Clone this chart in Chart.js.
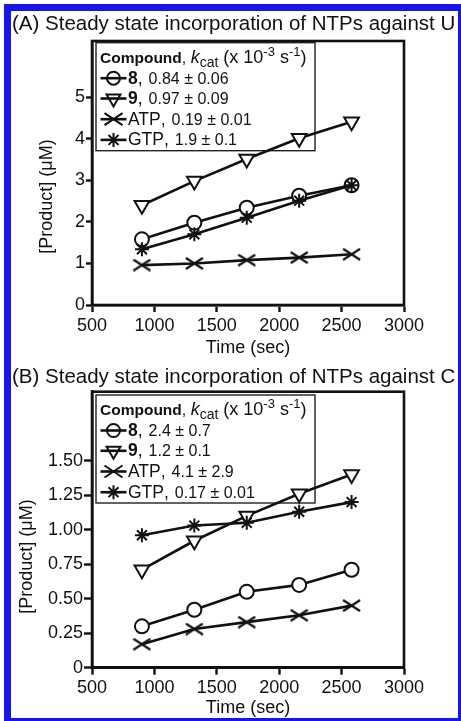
<!DOCTYPE html>
<html>
<head>
<meta charset="utf-8">
<script src="https://cdn.jsdelivr.net/npm/chart.js@4.4.1/dist/chart.umd.min.js"></script>
<style>
  html, body { margin: 0; padding: 0; background: #fff; overflow: hidden; }
  #frame {
    position: absolute; left: 4px; top: 4px; width: 447px; height: 707px;
    border-style: solid; border-color: #1414f5; border-width: 7px 3px 3px 7px;
  }
  canvas { position: absolute; left: 0; }
</style>
</head>
<body>
<div id="frame"></div>
<canvas id="chartA" width="461" height="361" style="top:0"></canvas>
<canvas id="chartB" width="461" height="360" style="top:361px"></canvas>
<script>
// data
const times = [900, 1320, 1740, 2160, 2580];

const cmpd8A = [1.58, 1.98, 2.34, 2.63, 2.88];
const cmpd9A = [2.40, 2.98, 3.51, 4.01, 4.41];
const atpA = [0.96, 1.00, 1.08, 1.14, 1.22];
const gtpA = [1.34, 1.70, 2.10, 2.51, 2.88];

const cmpd8B = [0.30, 0.42, 0.55, 0.60, 0.71];
const cmpd9B = [0.71, 0.92, 1.10, 1.26, 1.40];
const atpB = [0.17, 0.28, 0.33, 0.38, 0.45];
const gtpB = [0.96, 1.03, 1.05, 1.13, 1.20];

const seriesNames = ['8', '9', 'ATP', 'GTP'];
const kcatA = ['0.84 ± 0.06', '0.97 ± 0.09', '0.19 ± 0.01', '1.9 ± 0.1'];
const kcatB = ['2.4 ± 0.7', '1.2 ± 0.1', '4.1 ± 2.9', '0.17 ± 0.01'];

const xTicks = [500, 1000, 1500, 2000, 2500, 3000];
const xTickLabels = ['500', '1000', '1500', '2000', '2500', '3000'];
const yTicksA = [0, 1, 2, 3, 4, 5];
const yTickLabelsA = ['0', '1', '2', '3', '4', '5'];
const yTicksB = [0, 0.25, 0.5, 0.75, 1, 1.25, 1.5];
const yTickLabelsB = ['0', '0.25', '0.50', '0.75', '1.00', '1.25', '1.50'];

const titleA = '(A) Steady state incorporation of NTPs against U';
const titleB = '(B) Steady state incorporation of NTPs against C';
const yTitle = '[Product] (μM)';

const INK = '#111';
const FONT = "'Liberation Sans', Arial, Helvetica, sans-serif";

// wide flat "x" marker for ATP
function makeX(w, h, lw) {
  const c = document.createElement('canvas');
  c.width = w; c.height = h;
  const g = c.getContext('2d');
  g.strokeStyle = INK; g.lineWidth = lw;
  g.beginPath();
  g.moveTo(1, 1); g.lineTo(w - 1, h - 1);
  g.moveTo(1, h - 1); g.lineTo(w - 1, 1);
  g.stroke();
  return c;
}
const xMark = makeX(19, 13, 2.2);

const markerStyles = [
  { pointStyle: 'circle', pointRadius: 7, pointRotation: 0, order: 3 },
  { pointStyle: 'triangle', pointRadius: 8.5, pointRotation: 180, order: 2 },
  { pointStyle: xMark, pointRadius: 8, pointRotation: 0, order: 1 },
  { pointStyle: 'star', pointRadius: 7, pointRotation: 0, order: 0 }
];

function makeDataset(values, i) {
  const m = markerStyles[i];
  return {
    label: seriesNames[i],
    data: times.map((t, j) => ({ x: t, y: values[j] })),
    borderColor: INK,
    borderWidth: 2.6,
    pointStyle: m.pointStyle,
    pointRadius: m.pointRadius,
    pointRotation: m.pointRotation,
    pointBorderWidth: 2,
    pointBorderColor: INK,
    pointBackgroundColor: '#fff',
    tension: 0,
    order: m.order
  };
}

// legend marker, drawn with a line through it
function legendMarker(ctx, i, x, y) {
  ctx.save();
  ctx.strokeStyle = INK;
  ctx.lineWidth = 2.6;
  ctx.beginPath();
  ctx.moveTo(x - 13, y); ctx.lineTo(x + 13, y);
  ctx.stroke();
  ctx.lineWidth = 2;
  ctx.beginPath();
  if (i === 0) {
    ctx.arc(x, y, 6.5, 0, Math.PI * 2);
  } else if (i === 1) {
    const r = 8;
    ctx.moveTo(x - 0.866 * r, y - 0.5 * r);
    ctx.lineTo(x + 0.866 * r, y - 0.5 * r);
    ctx.lineTo(x, y + r);
    ctx.closePath();
  } else if (i === 2) {
    ctx.moveTo(x - 9, y - 6); ctx.lineTo(x + 9, y + 6);
    ctx.moveTo(x - 9, y + 6); ctx.lineTo(x + 9, y - 6);
  } else {
    const r = 7;
    for (let k = 0; k < 4; k++) {
      const a = k * Math.PI / 4;
      ctx.moveTo(x - Math.cos(a) * r, y - Math.sin(a) * r);
      ctx.lineTo(x + Math.cos(a) * r, y + Math.sin(a) * r);
    }
  }
  ctx.stroke();
  ctx.restore();
}

function drawLegend(ctx, bx, by, values) {
  const bw = 219, bh = 108;
  ctx.save();
  ctx.fillStyle = '#fff';
  ctx.fillRect(bx, by, bw, bh);
  ctx.strokeStyle = '#222';
  ctx.lineWidth = 1.4;
  ctx.strokeRect(bx, by, bw, bh);

  ctx.fillStyle = INK;
  ctx.textBaseline = 'alphabetic';
  ctx.textAlign = 'left';
  // header: Compound, k_cat (x 10^-3 s^-1)
  const base = by + 20;
  const parts = [
    ['Compound', 'bold 15.5px', 0],
    [', ', '16px', 0],
    ['k', 'italic 18px', 0],
    ['cat', '14px', 4],
    [' (x 10', '18px', 0],
    ['-3', '13px', -7],
    [' s', '18px', 0],
    ['-1', '13px', -7],
    [')', '18px', 0]
  ];
  let x = bx + 4;
  parts.forEach(([t, f, dy]) => {
    ctx.font = f + ' ' + FONT;
    ctx.fillText(t, x, base + dy);
    x += ctx.measureText(t).width;
  });

  const rows = [41, 61.3, 82, 102.7];
  seriesNames.forEach((name, i) => {
    const y = by + rows[i];
    legendMarker(ctx, i, bx + 17.5, y - 5.5);
    let tx = bx + 32;
    ctx.fillStyle = INK;
    ctx.font = (i < 2 ? 'bold ' : '') + '17.5px ' + FONT;
    ctx.fillText(name, tx, y);
    tx += ctx.measureText(name).width;
    ctx.font = '17.5px ' + FONT;
    ctx.fillText(',', tx, y);
    tx += ctx.measureText(',').width + 6;
    ctx.font = '16px ' + FONT;
    ctx.fillText(values[i], tx, y);
  });
  ctx.restore();
}

function makePanel(id, cfg) {
  const panelPlugin = {
    id: 'panel' + id,
    beforeDatasetsDraw(chart) {
      const ctx = chart.ctx;
      const a = chart.chartArea;
      ctx.save();
      ctx.strokeStyle = INK;
      ctx.lineWidth = 2.6;
      ctx.strokeRect(a.left, a.top, a.right - a.left, a.bottom - a.top);
      ctx.fillStyle = INK;
      ctx.font = '20.5px ' + FONT;
      ctx.textBaseline = 'middle';
      ctx.textAlign = 'left';
      ctx.fillText(cfg.title, 12, cfg.titleY);
      // rotated y axis title, centred lower than the plot middle as in the figure
      ctx.font = '18px ' + FONT;
      ctx.textAlign = 'center';
      ctx.translate(cfg.yTitleX, cfg.yTitleY);
      ctx.rotate(-Math.PI / 2);
      ctx.fillText(yTitle, 0, 0);
      ctx.restore();
      drawLegend(ctx, 96, cfg.legendY, cfg.kcat);
    }
  };

  return new Chart(document.getElementById(id), {
    type: 'line',
    data: { datasets: cfg.series.map(makeDataset) },
    options: {
      responsive: false,
      animation: false,
      devicePixelRatio: 1,
      layout: { padding: { left: 12, right: 57, top: cfg.top, bottom: 0 } },
      plugins: { legend: { display: false }, tooltip: { enabled: false }, title: { display: false } },
      scales: {
        x: {
          type: 'linear',
          min: 500,
          max: 3000,
          afterBuildTicks: s => { s.ticks = xTicks.map(v => ({ value: v })); },
          afterFit: s => { s.height = cfg.xBox; },
          ticks: {
            color: INK, padding: 3, maxRotation: 0, autoSkip: false,
            font: { family: FONT, size: 18 },
            callback: (v, i) => xTickLabels[i]
          },
          grid: { drawOnChartArea: false, drawTicks: true, tickLength: 7, tickWidth: 2.4, tickColor: INK },
          border: { display: true, color: INK, width: 2.6 },
          title: {
            display: true, text: 'Time (sec)', color: INK,
            font: { family: FONT, size: 18 }, padding: { top: 0, bottom: 2 }
          }
        },
        y: {
          type: 'linear',
          min: 0,
          max: cfg.yMax,
          afterBuildTicks: s => { s.ticks = cfg.yTicks.map(v => ({ value: v })); },
          afterFit: s => { s.width = 80; },
          ticks: {
            color: INK, padding: 1, autoSkip: false,
            font: { family: FONT, size: 18 },
            callback: (v, i) => cfg.yLabels[i]
          },
          grid: { drawOnChartArea: false, drawTicks: true, tickLength: cfg.yTick, tickWidth: 2.4, tickColor: INK },
          border: { display: true, color: INK, width: 2.6 },
          title: { display: false }
        }
      }
    },
    plugins: [panelPlugin]
  });
}

makePanel('chartA', {
  title: titleA, titleY: 24.5, top: 41, xBox: 56, yMax: 6.35,
  yTicks: yTicksA, yLabels: yTickLabelsA, yTick: 6, yTitleX: 46.7, yTitleY: 196.5,
  legendY: 42.7, kcat: kcatA,
  series: [cmpd8A, cmpd9A, atpA, gtpA]
});

makePanel('chartB', {
  title: titleB, titleY: 16, top: 30.7, xBox: 53.3, yMax: 2.0,
  yTicks: yTicksB, yLabels: yTickLabelsB, yTick: 8, yTitleX: 26.7, yTitleY: 195.5,
  legendY: 34, kcat: kcatB,
  series: [cmpd8B, cmpd9B, atpB, gtpB]
});
</script>
</body>
</html>
